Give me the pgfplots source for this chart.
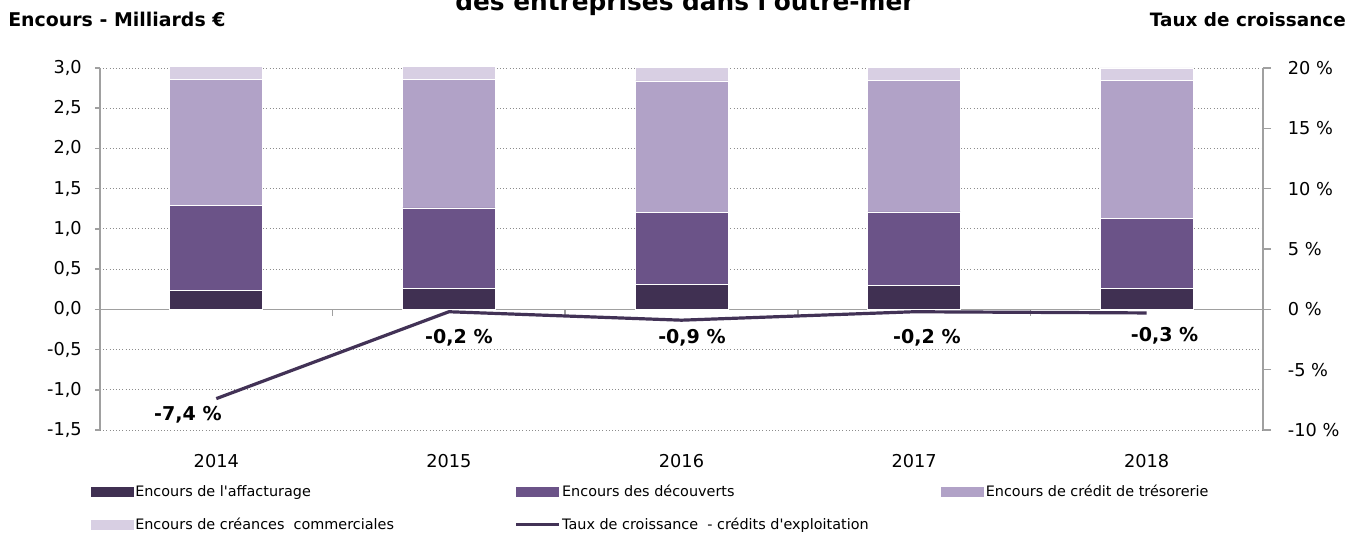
\documentclass[border=0pt]{standalone}
\usepackage{fontspec}
\setmainfont{DejaVu Sans}
\usepackage{pgfplots}
\usepackage{pgfplotstable}
\pgfplotsset{compat=1.18,
  /pgf/number format/assume math mode=true,
  sqlegend/.style={legend image code/.code={\path[##1,draw=none] (0pt,-3.75pt) rectangle (32.25pt,3.75pt);}},
  linelegend/.style={legend image code/.code={\draw[##1] (0pt,0pt) -- (32.25pt,0pt);}}}
\definecolor{affcol}{RGB}{64,48,82}
\definecolor{deccol}{RGB}{107,83,136}
\definecolor{trecol}{RGB}{177,162,199}
\definecolor{crecol}{RGB}{216,207,227}
\definecolor{linecol}{RGB}{66,50,86}
\definecolor{axisgray}{RGB}{160,160,160}
\definecolor{gridgray}{RGB}{140,140,140}

% encours en milliards d'euros
\pgfplotstableread{
x aff dec tre cre
0 0.24 1.05 1.57 0.19
1 0.26 1.00 1.60 0.18
2 0.31 0.89 1.64 0.17
3 0.30 0.91 1.64 0.16
4 0.26 0.87 1.72 0.15
}\encours

\newcommand{\lt}[1]{\makebox[283.5pt][l]{#1}}
\newcommand{\tickfont}{\fontsize{13.3}{16}\selectfont}
\newcommand{\lblfont}{\fontsize{14.3}{17}\selectfont\bfseries}

\begin{document}
\begin{tikzpicture}
\begin{axis}[
  at={(0pt,0pt)}, anchor=south west,
  scale only axis, width=872.25pt, height=271.5pt,
  xmin=-0.5, xmax=4.5, ymin=-1.5, ymax=3,
  ybar stacked, bar width=69.75pt,
  axis y line*=left, axis x line*=bottom,
  x axis line style={draw=none},
  y axis line style={-, draw=axisgray, line width=1.1pt},
  xtick={0,...,4}, xticklabels={2014,2015,2016,2017,2018},
  x tick style={draw=none},
  xticklabel style={anchor=base, yshift=-24.5pt},
  ytick={-1.5,-1,...,3},
  y tick style={axisgray, line width=1.1pt},
  tick align=outside, major tick length=3.75pt,
  tick label style={font=\tickfont},
  yticklabel style={anchor=east, inner sep=0pt, xshift=-9.75pt,
    /pgf/number format/.cd, fixed, fixed zerofill, precision=1, use comma},
  ymajorgrids, grid style={dotted, gridgray, line width=0.6pt},
  extra y ticks={0}, extra y tick labels={},
  extra y tick style={major grid style={solid, axisgray, line width=1.1pt}},
  legend columns=3, legend cell align=left,
  legend style={draw=none, fill=none, at={(0,0)}, anchor=north west,
    xshift=-7pt, yshift=-40pt, inner sep=0pt,
    font=\fontsize{10.8}{13}\selectfont, nodes={inner sep=1pt}, row sep=12.5pt},
]
\addplot[fill=affcol, draw=white, line width=0.5pt, sqlegend] table[x=x,y=aff]{\encours};
\addplot[fill=deccol, draw=white, line width=0.5pt, sqlegend] table[x=x,y=dec]{\encours};
\addplot[fill=trecol, draw=white, line width=0.5pt, sqlegend] table[x=x,y=tre]{\encours};
\addplot[fill=crecol, draw=white, line width=0.5pt, sqlegend] table[x=x,y=cre]{\encours};
\addlegendimage{linecol, line width=2.4pt, linelegend}
\legend{\lt{Encours de l\textquotesingle affacturage},\lt{Encours des découverts},\lt{Encours de crédit de trésorerie},\lt{Encours de créances~ commerciales},\lt{Taux de croissance~ - crédits d\textquotesingle exploitation}}
% petites graduations sur la ligne du zero
\draw[axisgray, line width=1.1pt] (axis cs:0.5,0) -- ++(0pt,-5.25pt);
\draw[axisgray, line width=1.1pt] (axis cs:1.5,0) -- ++(0pt,-5.25pt);
\draw[axisgray, line width=1.1pt] (axis cs:2.5,0) -- ++(0pt,-5.25pt);
\draw[axisgray, line width=1.1pt] (axis cs:3.5,0) -- ++(0pt,-5.25pt);
% totaux
\node[font=\lblfont, anchor=base] at (axis cs:0,3) [yshift=6pt] {3,05};
\node[font=\lblfont, anchor=base] at (axis cs:1,3) [yshift=6pt] {3,04};
\node[font=\lblfont, anchor=base] at (axis cs:2,3) [yshift=6pt] {3,01};
\node[font=\lblfont, anchor=base] at (axis cs:3,3) [yshift=6pt] {3,01};
\node[font=\lblfont, anchor=base] at (axis cs:4,3) [yshift=6pt] {3,0};
% taux
\node[font=\lblfont, anchor=base] at (axis cs:-0.122,-1.388) {-7,4 \%};
\node[font=\lblfont, anchor=base] at (axis cs:1.043,-0.419) {-0,2 \%};
\node[font=\lblfont, anchor=base] at (axis cs:2.045,-0.419) {-0,9 \%};
\node[font=\lblfont, anchor=base] at (axis cs:3.055,-0.419) {-0,2 \%};
\node[font=\lblfont, anchor=base] at (axis cs:4.077,-0.40) {-0,3 \%};
\end{axis}

\begin{axis}[
  at={(0pt,0pt)}, anchor=south west,
  scale only axis, width=872.25pt, height=271.5pt,
  xmin=-0.5, xmax=4.5, ymin=-10, ymax=20,
  axis y line*=right, axis x line=none,
  y axis line style={-, draw=axisgray, line width=1.1pt},
  ytick={-10,-5,...,20},
  y tick style={axisgray, line width=1.1pt},
  tick align=outside, major tick length=6pt,
  tick label style={font=\tickfont},
  yticklabel={\hspace*{12.5pt}\pgfmathprintnumber{\tick} \%},
  yticklabel style={anchor=west, inner sep=0pt},
]
\addplot[linecol, line width=2.4pt] coordinates {(0,-7.4) (1,-0.2) (2,-0.9) (3,-0.2) (4,-0.3)};
\end{axis}

\node[font=\fontsize{18.6}{22}\selectfont\bfseries, anchor=base] at (438.75pt,314.25pt) {des entreprises dans l\textquotesingle outre-mer};
\node[font=\fontsize{14.2}{17}\selectfont\bfseries, anchor=base west, inner sep=0pt] at (-69pt,302.25pt) {Encours - Milliards €};
\node[font=\fontsize{13.8}{16}\selectfont\bfseries, anchor=base east, inner sep=0pt] at (934.5pt,302.25pt) {Taux de croissance};

\pgfresetboundingbox
\path[use as bounding box] (-75pt,-78.75pt) rectangle (940.5pt,322.5pt);
\end{tikzpicture}
\end{document}
